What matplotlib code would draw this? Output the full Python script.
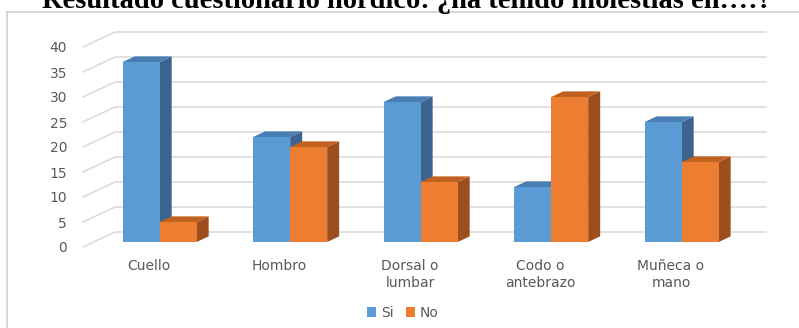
import numpy as np
import matplotlib
matplotlib.use('Agg')
import matplotlib.pyplot as plt
from matplotlib.patches import Polygon
from matplotlib.lines import Line2D

categorias = ['Cuello', 'Hombro', 'Dorsal o\nlumbar', 'Codo o\nantebrazo', 'Muñeca o\nmano']
si = [36, 21, 28, 11, 24]
no = [4, 19, 12, 29, 16]
yticks = [0, 5, 10, 15, 20, 25, 30, 35, 40]
titulo = 'Resultado cuestionario nórdico: ¿ha tenido molestias en:…?'

W, H = 799, 328
fig = plt.figure(figsize=(W/100, H/100), dpi=100)
plt.rcParams['font.family'] = ['DejaVu Sans']

# ejes: categoria i -> px 149 + 130.5*i ; valor v -> px 247 - 5*v (plano frontal)
px_cat = 130.5
px_val = 5.0
x0, x1 = 83, 790
y0, y1 = 247, 20
ax = fig.add_axes([x0/W, 1 - y0/H, (x1 - x0)/W, (y0 - y1)/H])
ax.set_xlim((x0 - 149)/px_cat, (x1 - 149)/px_cat)
ax.set_ylim(0, (y0 - y1)/px_val)
for s in ax.spines.values():
    s.set_visible(False)

# profundidad (pared) en unidades de datos
wall_dx = 32/px_cat
wall_dy = 15/px_val
gris = '#d9d9d9'
xl = ax.get_xlim()[0]
x_end = (766 - 149)/px_cat
for v in yticks:
    ax.plot([xl, xl + wall_dx, x_end], [v, v + wall_dy, v + wall_dy],
            color=gris, lw=1.1, zorder=1, clip_on=False)

ax.set_yticks(yticks)
ax.set_xticks(range(len(categorias)))
ax.set_xticklabels(categorias, linespacing=1.2)
ax.tick_params(axis='y', length=0, pad=11.5, labelsize=10, labelcolor='#595959')
ax.tick_params(axis='x', length=0, pad=9, labelsize=10, labelcolor='#595959')

# barras
bw = 37/px_cat
d1 = 1/3
d2 = d1 + 0.375
fdx, fdy = d1*wall_dx, d1*wall_dy
ddx, ddy = (d2 - d1)*wall_dx, (d2 - d1)*wall_dy
colores = [('#5b9bd5', '#4a7db3', '#3b6590'), ('#ed7d31', '#c0611f', '#9c4f1d')]
xs = np.arange(len(categorias))
offs = [-bw, 0]

for i in xs:
    for k, vals in enumerate([si, no]):
        v = vals[i]
        xa = i + offs[k] + fdx
        xb = xa + bw
        yb, yt = fdy, fdy + v
        lado = Polygon([(xb, yb), (xb, yt), (xb + ddx, yt + ddy), (xb + ddx, yb + ddy)],
                       closed=True, fc=colores[k][2], ec='none', zorder=2)
        tapa = Polygon([(xa, yt), (xb, yt), (xb + ddx, yt + ddy), (xa + ddx, yt + ddy)],
                       closed=True, fc=colores[k][1], ec='none', zorder=2)
        ax.add_patch(lado)
        ax.add_patch(tapa)

b1 = ax.bar(xs - bw + fdx, si, width=bw, bottom=fdy, align='edge',
            color=colores[0][0], zorder=3, label='Si')
b2 = ax.bar(xs + fdx, no, width=bw, bottom=fdy, align='edge',
            color=colores[1][0], zorder=3, label='No')

fig.legend(handles=[b1, b2], labels=['Si', 'No'], loc='center',
           bbox_to_anchor=(403/W, 1 - 313/H), ncol=2, frameon=False,
           fontsize=10, labelcolor='#595959', handlelength=0.65, handleheight=0.65,
           handletextpad=0.35, columnspacing=0.9)

# marco del grafico
fig.add_artist(Line2D([7/W, 7/W], [0, 1 - 12/H], color='#d0d0d0', lw=1.2))
fig.add_artist(Line2D([7/W, 1], [1 - 12/H, 1 - 12/H], color='#d0d0d0', lw=1.2))

fig.text(407/W, 1 - 7.5/H, titulo, ha='center', va='baseline',
         fontfamily='Liberation Serif', fontweight='bold', fontsize=20.5, color='black')

fig.savefig('out.png', dpi=100)
